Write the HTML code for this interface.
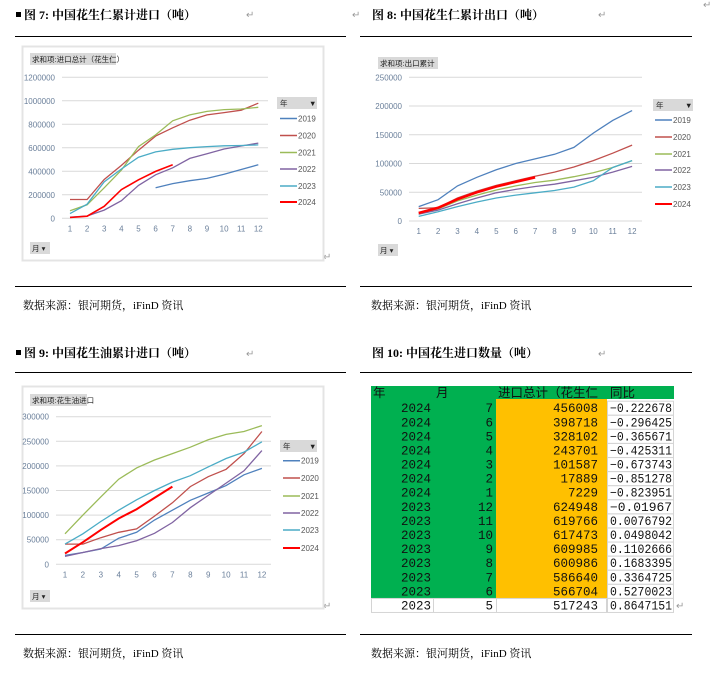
<!DOCTYPE html>
<html><head><meta charset="utf-8"><style>
html,body{margin:0;padding:0;background:#fff;width:722px;height:679px;overflow:hidden}
svg{display:block}
.t{font-family:"Liberation Serif","Noto Serif CJK SC",serif;font-weight:bold;font-size:12px;fill:#000}
.s{font-family:"Liberation Serif","Noto Serif CJK SC",serif;font-size:11px;fill:#000}
.r{font-family:"DejaVu Sans",sans-serif;font-size:10px;fill:#999}
.ax{font-family:"Liberation Sans","Noto Sans CJK SC",sans-serif;font-size:8px;fill:#6a7f9a}
.lg{font-family:"Liberation Sans","Noto Sans CJK SC",sans-serif;font-size:8px;fill:#555}
.bt{font-family:"Liberation Sans","Noto Sans CJK SC",sans-serif;font-size:7.5px;fill:#222}
.tb{font-family:"Liberation Mono","Noto Sans CJK SC",monospace;font-size:12.5px;fill:#111}
</style></head><body>
<svg id="s" width="722" height="679" xmlns="http://www.w3.org/2000/svg">
<rect x="16" y="12" width="5" height="5" fill="#000"/>
<text class="t" x="24" y="19">图 7:  中国花生仁累计进口（吨）</text>
<text class="t" x="372" y="19">图 8:  中国花生仁累计出口（吨）</text>
<rect x="16" y="350" width="5" height="5" fill="#000"/>
<text class="t" x="24" y="357">图 9:  中国花生油累计进口（吨）</text>
<text class="t" x="372" y="357">图 10:  中国花生进口数量（吨）</text>
<text class="r" x="246" y="18">↵</text><text class="r" x="352" y="18">↵</text>
<text class="r" x="598" y="18">↵</text><text class="r" x="703" y="8">↵</text>
<text class="r" x="246" y="357">↵</text><text class="r" x="598" y="357">↵</text>
<text class="r" x="323" y="260">↵</text><text class="r" x="323" y="609">↵</text>
<text class="r" x="676" y="609">↵</text>
<g stroke="#000" stroke-width="1">
<line x1="15" y1="36.5" x2="346" y2="36.5"/><line x1="360" y1="36.5" x2="692" y2="36.5"/>
<line x1="15" y1="286.5" x2="346" y2="286.5"/><line x1="360" y1="286.5" x2="692" y2="286.5"/>
<line x1="15" y1="372.5" x2="346" y2="372.5"/><line x1="360" y1="372.5" x2="692" y2="372.5"/>
<line x1="15" y1="634.5" x2="346" y2="634.5"/><line x1="360" y1="634.5" x2="692" y2="634.5"/>
</g>
<text class="s" x="23" y="309">数据来源：银河期货，iFinD 资讯</text>
<text class="s" x="371" y="309">数据来源：银河期货，iFinD 资讯</text>
<text class="s" x="23" y="657">数据来源：银河期货，iFinD 资讯</text>
<text class="s" x="371" y="657">数据来源：银河期货，iFinD 资讯</text>
<g id="charts"></g>
<g id="table"></g>
</svg>
<script>
const NS="http://www.w3.org/2000/svg";
const C=["#4f81bd","#c0504d","#9bbb59","#8064a2","#4bacc6","#ff0000"];
const Y=["2019","2020","2021","2022","2023","2024"];
const g=document.getElementById("charts");
function el(t,a,txt,p){const e=document.createElementNS(NS,t);for(const k in a)e.setAttribute(k,a[k]);if(txt!=null)e.textContent=txt;(p||g).appendChild(e);return e;}
function chart(o){
 if(o.frame)el("rect",{x:o.frame[0]+.5,y:o.frame[1]+.5,width:o.frame[2],height:o.frame[3],fill:"#fff",stroke:"#e4e4e4","stroke-width":2});
 el("rect",{x:o.tb[0],y:o.tb[1],width:o.tb[2],height:12,fill:"#d9d9d9"});
 el("text",{class:"bt",x:o.tb[0]+2,y:o.tb[1]+9},o.title);
 const n=o.ticks.length-1;
 for(let i=0;i<=n;i++){const y=o.y0-(o.y0-o.y1)*i/n;
  el("line",{x1:o.gx0,x2:o.gx1,y1:y,y2:y,stroke:"#d9d9d9","stroke-width":1});
  el("text",{class:"ax",x:o.lx,y:y+3,"text-anchor":"end"},o.ticks[i]);}
 for(let m=1;m<=12;m++)el("text",{class:"ax",x:o.x0+(m-1)*o.dx,y:o.y0+13,"text-anchor":"middle"},m);
 const max=o.max;
 o.data.forEach((d,k)=>{const pts=[];d.forEach((v,i)=>{if(v==null)return;pts.push((o.x0+i*o.dx).toFixed(1)+","+(o.y0-(o.y0-o.y1)*v/max).toFixed(1));});
  el("polyline",{points:pts.join(" "),fill:"none",stroke:C[k],"stroke-width":k==5?(o.thick||1.6):1.3});});
 el("rect",{x:o.lg[0],y:o.lg[1],width:o.lg[2],height:12,fill:"#d9d9d9"});
 el("text",{class:"bt",x:o.lg[0]+3,y:o.lg[1]+9},"年");
 el("text",{class:"bt",x:o.lg[0]+o.lg[2]-8,y:o.lg[1]+9,"font-size":"6"},"▼");
 o.li.forEach((y,k)=>{el("line",{x1:o.lx0,x2:o.lx0+17,y1:y,y2:y,stroke:C[k],"stroke-width":k==5?2:1.5});
  el("text",{class:"lg",x:o.lx0+18,y:y+3},Y[k]);});
 el("rect",{x:o.mb[0],y:o.mb[1],width:20,height:12,fill:"#d9d9d9"});
 el("text",{class:"bt",x:o.mb[0]+2,y:o.mb[1]+9},"月 ▾");
}
const ar=(a)=>{const s=[1,2,3,4,5].map(()=>null);return s.concat(a);};
chart({frame:[22,46,301,214],tb:[30,53,86],title:"求和项:进口总计（花生仁）",y0:218.3,y1:77.3,gx0:62,gx1:268,lx:55,x0:70,dx:17.12,
 ticks:["0","200000","400000","600000","800000","1000000","1200000"],max:1200,
 data:[ar([260,295,320,340,375,415,455]),[160,160,330,450,580,700,770,835,880,900,920,980],[65,115,260,410,610,710,830,880,910,925,930,945],[10,20,70,150,280,370,430,510,550,590,615,640],[40,120,310,420,520,565,587,601,610,617,620,625],[7,18,102,244,328,399,456]],
 lg:[277,97,40],li:[118.5,135.5,152.5,169,186,202],lx0:280,mb:[30,242]});
chart({frame:null,tb:[378,57,60],title:"求和项:出口累计",y0:221,y1:77.3,gx0:409,gx1:642,lx:402,x0:418.7,dx:19.4,
 ticks:["0","50000","100000","150000","200000","250000"],max:250,thick:2.6,
 data:[[25,37,61,76,89,100,108,116,128,153,175,192],[22,23,40,52,62,70,78,85,94,105,118,132],[12,21,35,45,54,61,67,71,77,84,93,105],[12,19,30,40,49,55,60,64,70,76,85,95],[8,16,25,33,40,45,49,53,59,70,93,105],[14,23,38,50,60,68,76]],
 lg:[653,99,40],li:[120,137,154,170,187,204],lx0:655,mb:[378,244]});
chart({frame:[22,386,301,222],tb:[30,394,57],title:"求和项:花生油进口",y0:564.3,y1:416.7,gx0:56,gx1:271,lx:49,x0:65,dx:17.9,
 ticks:["0","50000","100000","150000","200000","250000","300000"],max:300,thick:2,
 data:[[18,24,31,53,65,90,110,130,145,160,182,195],[41,41,54,65,72,98,125,158,178,193,225,270],[62,100,137,173,196,212,225,238,253,264,270,282],[16,24,32,38,48,63,85,115,140,165,190,231],[41,62,87,110,131,150,167,180,198,215,228,249],[22,45,70,93,112,135,158]],
 lg:[280,440,37],li:[460.7,478,496,513,530,548],lx0:283,mb:[30,590]});
const tg=document.getElementById("table");
el("rect",{x:371,y:386,width:303,height:13,fill:"#00b050"},null,tg);
el("rect",{x:371,y:399,width:125,height:199,fill:"#00b050"},null,tg);
el("rect",{x:496,y:399,width:111,height:199,fill:"#ffc000"},null,tg);
el("text",{class:"tb",x:373,y:397},"年",tg);
el("text",{class:"tb",x:436,y:397},"月",tg);
el("text",{class:"tb",x:498,y:397,"font-size":"11.5"},"进口总计（花生仁",tg);
el("text",{class:"tb",x:610,y:397,"font-size":"11.5"},"同比",tg);
const rows=[["2024",7,456008,"-0.222678"],["2024",6,398718,"-0.296425"],["2024",5,328102,"-0.365671"],["2024",4,243701,"-0.425311"],["2024",3,101587,"-0.673743"],["2024",2,17889,"-0.851278"],["2024",1,7229,"-0.823951"],["2023",12,624948,"-0.01967"],["2023",11,619766,"0.0076792"],["2023",10,617473,"0.0498042"],["2023",9,609985,"0.1102666"],["2023",8,600986,"0.1683395"],["2023",7,586640,"0.3364725"],["2023",6,566704,"0.5270023"],["2023",5,517243,"0.8647151"]];
rows.forEach((r,i)=>{const c=407.7+i*14.09,top=c-7;
 el("rect",{x:607.5,y:top+.5,width:66,height:14,fill:"#fff",stroke:"#d4d4d4"},null,tg);
 if(i==14){el("rect",{x:371.5,y:top+.5,width:235,height:14,fill:"#fff",stroke:"#d4d4d4"},null,tg);
  el("line",{x1:433.5,x2:433.5,y1:top,y2:top+14,stroke:"#d4d4d4"},null,tg);el("line",{x1:496.5,x2:496.5,y1:top,y2:top+14,stroke:"#d4d4d4"},null,tg);}
 const y=c+4.5;
 el("text",{class:"tb",x:431,y:y,"text-anchor":"end"},r[0],tg);
 el("text",{class:"tb",x:493,y:y,"text-anchor":"end"},r[1],tg);
 el("text",{class:"tb",x:598,y:y,"text-anchor":"end"},r[2],tg);
 el("text",{class:"tb",x:672,y:y,"text-anchor":"end",textLength:"62",lengthAdjust:"spacingAndGlyphs"},r[3].replace("-","−"),tg);
});
</script>
</body></html>
